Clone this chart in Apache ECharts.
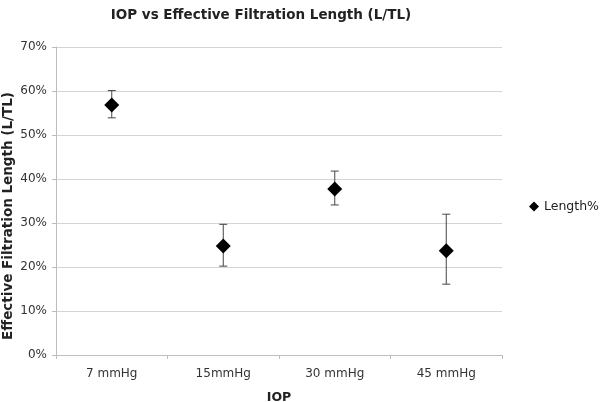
<!DOCTYPE html>
<html><head><meta charset="utf-8">
<script src="https://cdn.jsdelivr.net/npm/echarts@6/dist/echarts.min.js"></script>
<style>html,body{margin:0;padding:0;background:#fff}#c{width:600px;height:402px}</style>
</head><body><div id="c"></div>
<script>
const categories = ['7 mmHg', '15mmHg', '30 mmHg', '45 mmHg'];
const lengthPct = [56.8, 24.8, 37.7, 23.7];
const errLow = [53.9, 20.2, 34.1, 16.1];
const errHigh = [60.1, 29.7, 41.8, 32.0];

const chart = echarts.init(document.getElementById('c'));
const font = 'DejaVu Sans';
chart.setOption({
  animation: false,
  textStyle: {fontFamily: font},
  title: {text: 'IOP vs Effective Filtration Length (L/TL)', left: 256, top: 3, textAlign: 'center',
    textStyle: {fontFamily: font, fontWeight: 'bold', fontSize: 13.5, color: '#222'}},
  legend: {data: [{name: 'Length%', icon: 'diamond'}], left: 524, top: 195, itemWidth: 10, itemHeight: 10, itemGap: 3,
    textStyle: {fontFamily: font, fontSize: 12.5, color: '#222'}},
  grid: {left: 56, right: 98, top: 47, bottom: 47, outerBoundsMode: 'none', containLabel: false},
  xAxis: {type: 'category', data: categories, boundaryGap: true,
    name: 'IOP', nameLocation: 'middle', nameGap: 36, nameMoveOverlap: false,
    nameTextStyle: {fontFamily: font, fontWeight: 'bold', fontSize: 12.5, color: '#222'},
    axisLine: {lineStyle: {color: '#bdbdbd'}},
    axisTick: {show: true, length: 4, lineStyle: {color: '#bdbdbd'}},
    axisLabel: {fontFamily: font, fontSize: 12, color: '#333', margin: 13}},
  yAxis: {type: 'value', min: 0, max: 70, interval: 10,
    name: 'Effective Filtration Length (L/TL)', nameLocation: 'middle', nameGap: 41, nameMoveOverlap: false,
    nameTextStyle: {fontFamily: font, fontWeight: 'bold', fontSize: 13.5, color: '#222', padding: [0, 30, 0, 0]},
    axisLine: {show: true, lineStyle: {color: '#bdbdbd'}},
    axisTick: {show: true, length: 4, lineStyle: {color: '#bdbdbd'}},
    splitLine: {lineStyle: {color: '#d4d4d4'}},
    axisLabel: {fontFamily: font, fontSize: 12, color: '#333', margin: 9, formatter: v => v + '%'}},
  series: [
    {name: 'Length%', type: 'scatter', symbol: 'diamond', symbolSize: 15, data: lengthPct,
     itemStyle: {color: '#000', opacity: 1}, z: 3},
    {name: 'err', type: 'custom', data: categories.map((c, i) => [i, errLow[i], errHigh[i]]),
     renderItem: function (params, api) {
       const lo = api.coord([api.value(0), api.value(1)]);
       const hi = api.coord([api.value(0), api.value(2)]);
       const w = 4;
       const st = {stroke: '#444', lineWidth: 1};
       return {type: 'group', children: [
         {type: 'line', shape: {x1: lo[0], y1: lo[1], x2: hi[0], y2: hi[1]}, style: st},
         {type: 'line', shape: {x1: lo[0] - w, y1: lo[1], x2: lo[0] + w, y2: lo[1]}, style: st},
         {type: 'line', shape: {x1: hi[0] - w, y1: hi[1], x2: hi[0] + w, y2: hi[1]}, style: st}
       ]};
     }, z: 2}
  ]
});
</script></body></html>
